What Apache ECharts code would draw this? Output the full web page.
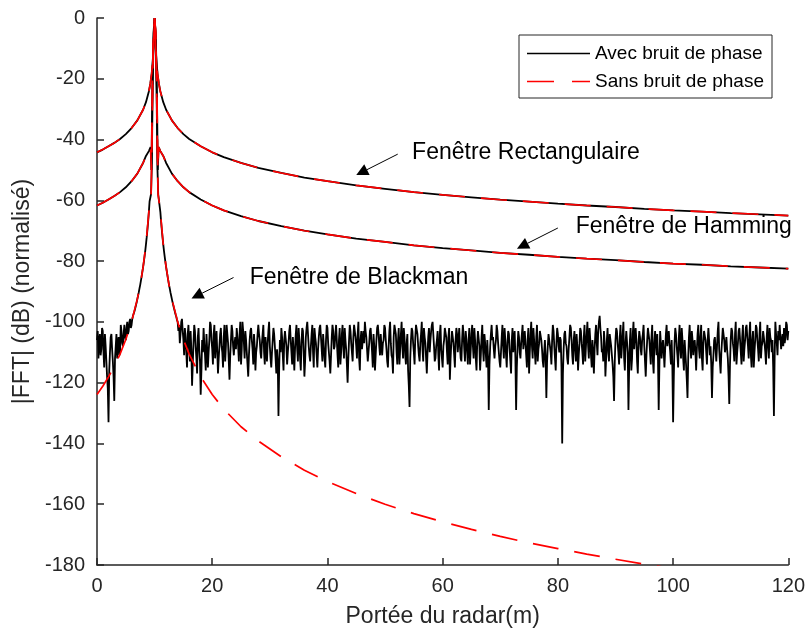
<!DOCTYPE html>
<html><head><meta charset="utf-8">
<script src="https://cdn.jsdelivr.net/npm/echarts@6/dist/echarts.min.js"></script>
<style>html,body{margin:0;padding:0;background:#fff}#c{width:808px;height:633px}</style>
</head><body><div id="c"></div>
<script>
// ---------- data ----------
const xTickValues = [0, 20, 40, 60, 80, 100, 120];
const yTickValues = [0, -20, -40, -60, -80, -100, -120, -140, -160, -180];

// Rectangular window (same with and without phase noise)
const rectX = [0,1,2,3,4,5,6,7,8,8.5,9,9.25,9.5,9.75,9.9,10,10.1,10.25,10.5,10.75,11,11.5,12,13,14,15,16,18,20,22,25,28,32,36,40,45,50,55,60,65,70,75,80,85,90,95,100,105,110,115,120];
const rectY = [-44.2,-43.3,-42.2,-41.1,-39.8,-38.2,-36.2,-33.7,-30.2,-27.7,-24.2,-21.7,-18.2,-12.1,-4.3,0,-4.3,-12.1,-18.2,-21.7,-24.2,-27.7,-30.2,-33.7,-36.2,-38.2,-39.8,-42.2,-44.2,-45.8,-47.7,-49.3,-51.0,-52.5,-53.7,-55.1,-56.2,-57.3,-58.2,-59.0,-59.8,-60.4,-61.1,-61.7,-62.2,-62.8,-63.3,-63.7,-64.2,-64.6,-65.0];

// Hamming window
const hammX = [0,1,2,3,4,5,6,7,8,8.5,9,9.3,9.45,9.6,9.8,10,10.2,10.4,10.55,10.7,11,11.5,12,13,14,15,16,18,20,22,25,28,32,36,40,45,50,55,60,65,70,75,80,85,90,95,100,105,110,115,120];
const hammY = [-61.7,-60.8,-59.7,-58.6,-57.3,-55.7,-53.7,-51.2,-47.7,-45.4,-43.8,-42.5,-50,-24,-5,0,-5,-24,-50,-42.5,-43.8,-45.4,-47.7,-51.2,-53.7,-55.7,-57.3,-59.7,-61.7,-63.3,-65.2,-66.8,-68.5,-70.0,-71.2,-72.6,-73.7,-74.8,-75.7,-76.5,-77.3,-77.9,-78.6,-79.2,-79.7,-80.3,-80.8,-81.2,-81.7,-82.1,-82.5];

// Blackman window without phase noise
const blackmanX = [0,1,2,3,4,5,6,7,7.5,8,8.5,9,9.25,9.4,9.55,9.7,9.85,10,10.15,10.3,10.45,10.6,10.75,11,11.5,12,12.5,13,14,15,16,18,20,22,25,28,32,36,40,45,50,55,60,65,70,75,80,85,90,95,100,110,120];
const blackmanY = [-123.9,-121.2,-118.1,-114.6,-110.6,-105.8,-100.0,-92.5,-87.8,-82.0,-74.5,-63.9,-60,-58,-38,-16,-4,0,-4,-16,-38,-58,-60,-63.9,-74.5,-82.0,-87.8,-92.5,-100.0,-105.8,-110.6,-118.1,-123.9,-128.7,-134.5,-139.2,-144.4,-148.8,-152.5,-156.5,-160.0,-163.1,-165.8,-168.3,-170.6,-172.7,-174.6,-176.4,-178.1,-179.7,-181.2,-183.9,-186.4];

// Blackman window with phase noise: one sample every 0.125 m from 0 m
const noisyStart = 0, noisyStep = 0.125;
const blackmanNoisyY = [
 -106,-103,-112,-107,-104,-111,-109,-102,-103,-110,-115,-104,-108,-113,-118,-122,-133,-116,-110,-105,-104,-109,-113,-118,-126,-112,-108,-104,-112,-107,-105,-111,-110,-101,-103,-107,-108,-104,-101,-105,-106,-102,-100,-104,-103,-100,-99,-102,-101,-99,-98,
 -97.5,-96.5,-95.6,-94.6,-93.6,-92.5,-91.4,-90.3,-89.0,-87.8,-86.4,-85.0,-83.5,-82.0,-80.3,-78.5,-76.6,-74.5,-72.2,-69.7,-67.0,-63.9,
 -60.4,-60,-58,-50,-30,-14,-4,0,-4,-14,-30,-50,-58,-60,-60.4,
 -63.9,-67.0,-69.7,-72.2,-74.5,-76.6,-78.5,-80.3,-82.0,-83.5,-85.0,-86.4,-87.8,-89.0,-90.3,-91.4,-92.5,-93.6,-94.6,-95.6,-96.5,-97.5,-98.2,-99.3,-100,
 -103,
 -101,-107,-104,-100,-99,-103,-106,-111,-102,-105,-110,-115,-104,-101,-108,-113,-103,-109,-121,-114,-107,-101,-103,-108,-112,-117,-105,-102,-109,-113,-124,-116,-106,-110,-102,-107,-111,-116,-104,-109,
 -115,-110,-106,-100,-101,-106,-109,-114,-104,-101,-112,-107,-103,-110,-117,-112,-108,-104,-102,-108,-110,-115,-105,-101,-113,-108,-101,-104,-107,-113,-119,-111,-106,-101,-103,-108,-111,-107,-105,-109,
 -102,-105,-108,-113,-104,-100,-114,-109,-100,-103,-107,-112,-103,-106,-110,-114,-118,-111,-106,-103,-102,-106,-109,-114,-104,-108,-116,-110,-108,-104,-101,-104,-106,-110,-112,-107,-104,-101,-110,-114,
 -105,-109,-113,-107,-103,-100,-108,-112,-115,-110,-106,-102,-104,-108,-112,-117,-109,-113,-131,-115,-106,-110,-102,-105,-111,-116,-106,-103,-103,-108,-114,-110,-107,-103,-101,-106,-110,-114,-105,-110,
 -116,-109,-104,-101,-109,-113,-102,-106,-112,-116,-107,-102,-103,-110,-118,-113,-105,-102,-100,-104,-108,-111,-113,-108,-104,-101,-110,-115,-102,-105,-107,-111,-115,-109,-105,-102,-101,-105,-109,-113,
 -104,-108,-112,-115,-106,-101,-102,-107,-110,-113,-117,-111,-105,-101,-103,-109,-108,-104,-101,-106,-111,-115,-106,-102,-114,-110,-104,-101,-108,-112,-102,-106,-109,-114,-120,-112,-106,-101,-103,-107,
 -110,-113,-105,-101,-101,-105,-108,-112,-104,-100,-112,-116,-106,-103,-109,-106,-103,-107,-100,-103,-105,-109,-113,-110,-107,-103,-102,-106,-110,-115,-104,-108,-116,-111,-106,-102,-101,-104,-108,-111,
 -104,-108,-111,-107,-106,-101,-102,-106,-109,-113,-115,-108,-103,-100,-107,-111,-112,-117,-105,-101,-101,-104,-110,-114,-106,-102,-114,-109,-104,-100,-108,-112,-102,-105,-111,-114,-107,-104,-116,-121,
 -128,-112,-106,-102,-103,-107,-110,-114,-105,-101,-101,-104,-108,-111,-113,-107,-104,-100,-109,-113,-102,-105,-107,-112,-117,-110,-105,-102,-110,-106,-103,-101,-100,-104,-108,-113,-112,-108,-106,-103,
 -111,-116,-104,-101,-109,-112,-115,-108,-106,-102,-102,-105,-110,-114,-105,-102,-119,-112,-107,-103,-103,-107,-111,-115,-106,-102,-104,-110,-106,-102,-108,-112,-113,-106,-101,-104,-109,-113,-103,-106,
 -110,-114,-106,-102,-114,-109,-104,-101,-108,-112,-102,-106,-112,-116,-107,-103,-103,-108,-116,-111,-105,-101,-109,-113,-104,-107,-111,-115,-106,-112,-129,-114,-108,-104,-101,-106,-105,-109,-112,-108,
 -106,-101,-103,-107,-110,-113,-115,-110,-105,-101,-108,-112,-102,-106,-111,-115,-107,-103,-104,-109,-113,-117,-106,-102,-110,-106,-103,-112,-129,-115,-108,-103,-105,-110,-112,-107,-104,-101,-109,-106,
 -103,-107,-111,-115,-106,-102,-117,-110,-104,-100,-108,-112,-102,-106,-110,-114,-105,-101,-113,-109,-107,-103,-103,-106,-109,-113,-115,-110,-106,-112,-125,-113,-108,-104,-104,-108,-110,-114,-106,-101,
 -103,-108,-112,-116,-107,-102,-104,-108,-110,-105,-106,-115,-140,-117,-109,-104,-103,-107,-108,-112,-114,-109,-105,-101,-102,-106,-111,-114,-106,-103,-109,-113,-104,-108,-116,-111,-107,-102,-103,-107,
 -110,-114,-105,-101,-113,-108,-104,-100,-108,-112,-102,-106,-111,-115,-106,-110,-117,-109,-104,-101,-107,-111,-103,-100,-98,-102,-105,-110,-109,-113,-103,-107,-118,-112,-106,-102,-110,-113,-104,-106,
 -108,-111,-114,-118,-126,-113,-106,-102,-103,-107,-110,-114,-105,-101,-112,-108,-104,-100,-112,-116,-107,-103,-103,-110,-129,-115,-106,-102,-116,-112,-104,-100,-109,-105,-102,-106,-113,-117,-107,-103,
 -105,-109,-111,-106,-104,-101,-108,-113,-118,-111,-106,-102,-102,-106,-110,-114,-105,-101,-113,-117,-107,-103,-107,-111,-104,-112,-129,-114,-103,-107,-112,-108,-106,-110,-115,-109,-104,-101,-108,-105,
 -103,-107,-110,-114,-106,-115,-133,-118,-107,-102,-104,-108,-111,-115,-105,-101,-109,-112,-102,-106,-112,-116,-106,-110,-114,-119,-125,-112,-105,-101,-108,-112,-103,-106,-111,-107,-106,-110,-116,-109,
 -104,-101,-109,-112,-105,-101,-112,-116,-107,-103,-103,-106,-110,-114,-106,-102,-106,-111,-108,-114,-125,-115,-111,-106,-105,-109,-113,-108,-103,-100,-109,-113,-117,-110,-106,-102,-102,-106,-110,-108,
 -105,-109,-112,-118,-127,-114,-106,-102,-103,-107,-109,-113,-104,-100,-114,-110,-107,-103,-102,-106,-110,-114,-105,-101,-113,-109,-106,-102,-101,-105,-108,-112,-104,-100,-111,-115,-106,-103,-115,-110,
 -106,-101,-102,-106,-109,-113,-104,-100,-112,-108,-107,-103,-103,-107,-110,-114,-105,-101,-108,-112,-102,-105,-106,-110,-106,-115,-131,-112,-100,-104,-107,-111,-103,-106,-101,-105,-109,-106,-104,-108,
 -102,-107,-105,-100,-101,-106,-103
];

// Annotations (data coordinates)
const annTexts = ['Fenêtre Rectangulaire', 'Fenêtre de Hamming', 'Fenêtre de Blackman'];
const annTextAt = [[54.7, -44.3], [83.1, -68.7], [26.5, -85.6]];
const annArrowFrom = [[52.2, -44.8], [80.0, -69.1], [23.7, -85.4]];
const annArrowTo = [[45.0, -51.7], [72.9, -75.9], [16.4, -92.3]];

const legendNames = ['Avec bruit de phase', 'Sans bruit de phase'];

// ---------- chart ----------
const FONT = '"Liberation Sans", Arial, Helvetica, sans-serif';
const AX = '#262626';
const chart = echarts.init(document.getElementById('c'), null, {renderer: 'canvas'});
const pairs = (xs, ys) => xs.map((x, i) => [x, ys[i]]);
const noisyPairs = blackmanNoisyY.map((y, i) => [noisyStart + i * noisyStep, y]);

const solid = {color: '#000000', width: 1.8};
const dashed = {color: '#ff0000', width: 1.7, type: [26, 16]};
function ser(name, data, ls) {
  return {type: 'line', name, data, showSymbol: false, symbol: 'none', clip: true,
    lineStyle: ls, itemStyle: {color: ls.color}, emphasis: {disabled: true}, animation: false};
}

chart.setOption({
  animation: false,
  backgroundColor: '#fff',
  grid: {left: 97, right: 18, top: 18, bottom: 65},
  xAxis: {
    type: 'value', min: xTickValues[0], max: xTickValues[xTickValues.length - 1], interval: 20,
    axisLine: {show: true, onZero: false, lineStyle: {color: AX, width: 1.5}},
    axisTick: {show: true, inside: true, length: 7, lineStyle: {color: AX, width: 1.5}},
    splitLine: {show: false},
    axisLabel: {fontSize: 20, color: AX, margin: 11, fontFamily: FONT},
    name: 'Portée du radar(m)', nameLocation: 'middle', nameGap: 40,
    nameTextStyle: {fontSize: 23, color: AX, fontFamily: FONT}
  },
  yAxis: {
    type: 'value', min: yTickValues[yTickValues.length - 1], max: yTickValues[0], interval: 20,
    axisLine: {show: true, onZero: false, lineStyle: {color: AX, width: 1.5}},
    axisTick: {show: true, inside: true, length: 7, lineStyle: {color: AX, width: 1.5}},
    splitLine: {show: false},
    axisLabel: {fontSize: 20, color: AX, margin: 12, fontFamily: FONT},
    name: '|FFT| (dB) (normalisé)', nameLocation: 'middle', nameGap: 44,
    nameTextStyle: {fontSize: 23, color: AX, fontFamily: FONT}
  },
  legend: {
    data: [
      {name: legendNames[0], icon: 'path://M0,0h63v1.6h-63z'},
      {name: legendNames[1], icon: 'path://M0,0h27v1.6h-27zM45,0h18v1.6h-18z'}
    ],
    orient: 'vertical', left: 519, top: 35,
    padding: [9, 8, 7, 8], itemWidth: 63, itemHeight: 16, itemGap: 9,
    borderColor: '#262626', borderWidth: 1, backgroundColor: '#fff',
    textStyle: {fontSize: 19, color: '#000', fontFamily: FONT}
  },
  series: [
    ser(legendNames[0], pairs(rectX, rectY), solid),
    ser(legendNames[0], pairs(hammX, hammY), solid),
    ser(legendNames[0], noisyPairs, solid),
    ser(legendNames[1], pairs(rectX, rectY), dashed),
    ser(legendNames[1], pairs(hammX, hammY), dashed),
    ser(legendNames[1], pairs(blackmanX, blackmanY), dashed)
  ]
});

// annotations: text + arrows placed through the chart's own coordinate system
const px = p => chart.convertToPixel({gridIndex: 0}, p);
const graphics = [];
annTexts.forEach((t, i) => {
  const tp = px(annTextAt[i]);
  graphics.push({type: 'text', x: tp[0], y: tp[1], z: 100,
    style: {text: t, fontSize: 23, fontFamily: FONT, fill: '#000', align: 'left', verticalAlign: 'middle'}});
  const a = px(annArrowFrom[i]), b = px(annArrowTo[i]);
  const dx = b[0] - a[0], dy = b[1] - a[1], L = Math.hypot(dx, dy);
  const ux = dx / L, uy = dy / L, hl = 12, hw = 6;
  const bx = b[0] - ux * hl, by = b[1] - uy * hl;
  graphics.push({type: 'line', z: 100, shape: {x1: a[0], y1: a[1], x2: bx, y2: by},
    style: {stroke: '#000', lineWidth: 1}});
  graphics.push({type: 'polygon', z: 100,
    shape: {points: [[b[0], b[1]], [bx - uy * hw, by + ux * hw], [bx + uy * hw, by - ux * hw]]},
    style: {fill: '#000'}});
});
chart.setOption({graphic: graphics});
</script>
</body></html>
